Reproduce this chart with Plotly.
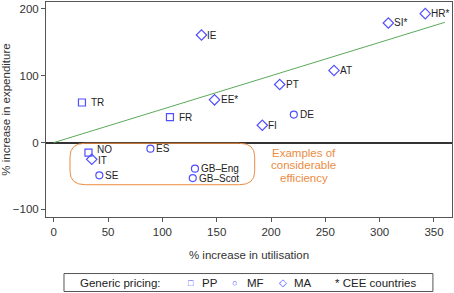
import plotly.graph_objects as go

# Data
pp_names = ["TR", "FR", "NO"]
pp_x = [26, 107, 32]
pp_y = [60, 38, -15]

mf_names = ["DE", "SE", "ES", "GB\u2013Eng", "GB\u2013Scot"]
mf_x = [221, 42, 89, 130, 128]
mf_y = [42, -49, -9, -39, -53]

ma_names = ["IE", "EE*", "PT", "AT", "SI*", "HR*", "FI", "IT"]
ma_x = [136, 148, 208, 258, 308, 342, 192, 35]
ma_y = [161, 64, 87, 108, 179, 193, 26, -25]

trend_x = [0, 360]
trend_slope = 0.5

x_ticks = [0, 50, 100, 150, 200, 250, 300, 350]
y_ticks = [-100, 0, 100, 200]

note_lines = ["Examples of", "considerable", "efficiency"]
note_x = 230
note_y = [-15.0, -33.6, -52.2]

# efficiency region bounds
reg_x0, reg_x1, reg_y0, reg_y1 = 15, 185, -63, -1
rx, ry = 14, 20

BLUE = "rgb(80,80,255)"
ORANGE = "rgb(236,140,66)"
FONT = "Liberation Sans, Arial, sans-serif"
TXT = "#222"

fig = go.Figure()

fig.add_trace(go.Scatter(
    x=trend_x, y=[trend_slope * v for v in trend_x], mode="lines",
    line=dict(color="rgb(90,170,90)", width=1), showlegend=False, hoverinfo="skip"))

for name, xs, ys, sym, sz in [("PP", pp_x, pp_y, "square-open", 7),
                              ("MF", mf_x, mf_y, "circle-open", 7),
                              ("MA", ma_x, ma_y, "diamond-open", 8)]:
    fig.add_trace(go.Scatter(
        x=xs, y=ys, mode="markers", name=name, cliponaxis=False,
        marker=dict(symbol=sym, size=sz, color=BLUE, line=dict(width=1.2))))

# point labels
label_shift = {"PP": 7, "MF": 4, "MA": 4}
label_yshift = {"NO": 3, "IT": -1}
for grp, names, xs, ys in [("PP", pp_names, pp_x, pp_y),
                           ("MF", mf_names, mf_x, mf_y),
                           ("MA", ma_names, ma_x, ma_y)]:
    for n, xx, yy in zip(names, xs, ys):
        fig.add_annotation(x=xx, y=yy, xref="x", yref="y", text=n, showarrow=False,
                           xanchor="left", yanchor="middle",
                           xshift=label_shift[grp], yshift=label_yshift.get(n, 0),
                           font=dict(size=10, color=TXT, family=FONT))

path = (f"M {reg_x0+rx},{reg_y1} L {reg_x1-rx},{reg_y1} Q {reg_x1},{reg_y1} {reg_x1},{reg_y1-ry} "
        f"L {reg_x1},{reg_y0+ry} Q {reg_x1},{reg_y0} {reg_x1-rx},{reg_y0} "
        f"L {reg_x0+rx},{reg_y0} Q {reg_x0},{reg_y0} {reg_x0},{reg_y0+ry} "
        f"L {reg_x0},{reg_y1-ry} Q {reg_x0},{reg_y1} {reg_x0+rx},{reg_y1} Z")
fig.add_shape(type="path", path=path, xref="x", yref="y",
              line=dict(color=ORANGE, width=1))

for t, yy in zip(note_lines, note_y):
    fig.add_annotation(x=note_x, y=yy, xref="x", yref="y", text=t, showarrow=False,
                       borderpad=0,
                       font=dict(size=11.5, color=ORANGE, family=FONT), align="center")

# manual legend box
leg_y = -0.305
fig.add_shape(type="rect", xref="paper", yref="paper", x0=0.0443, x1=0.953,
              y0=-0.3465, y1=-0.263, line=dict(color="#555", width=1))
legend_items = [
    ("Generic pricing:", 0.0788, TXT, 11.5),
    ("\u25a1", 0.345, BLUE, 9),
    ("PP", 0.379, TXT, 11.5),
    ("\u25cb", 0.453, BLUE, 9),
    ("MF", 0.490, TXT, 11.5),
    ("\u25c7", 0.569, BLUE, 10),
    ("MA", 0.606, TXT, 11.5),
    ("* CEE countries", 0.707, TXT, 11.5),
]
for t, xx, c, s in legend_items:
    fig.add_annotation(x=xx, y=leg_y, xref="paper", yref="paper", text=t, showarrow=False,
                       xanchor="left", yanchor="middle",
                       font=dict(size=s, color=c, family=FONT))

fig.update_layout(
    width=454, height=293,
    margin=dict(l=46, r=2, t=2, b=76),
    plot_bgcolor="white", paper_bgcolor="white",
    font=dict(family=FONT, size=11.5, color="#333"),
    showlegend=False,
    xaxis=dict(range=[-7.1, 366.6], tickvals=x_ticks, showgrid=False, zeroline=False,
               automargin=False,
               showline=True, linecolor="#555", linewidth=1, mirror=True,
               ticks="outside", ticklen=4, tickcolor="#555",
               tickfont=dict(size=11.5, color="#333"),
               title=dict(text="% increase in utilisation", font=dict(size=11.5, color="#333"), standoff=14)),
    yaxis=dict(range=[-111.3, 210.4], tickvals=y_ticks, showgrid=False,
               automargin=False,
               zeroline=True, zerolinecolor="#333", zerolinewidth=1.5,
               showline=True, linecolor="#555", linewidth=1, mirror=True,
               ticks="outside", ticklen=4, tickcolor="#555",
               tickfont=dict(size=11.5, color="#333"),
               title=dict(text="% increase in expenditure", font=dict(size=11.5, color="#333"), standoff=2)),
)

fig.write_html("out.html", config={"displayModeBar": False},
               post_script="document.body.style.margin='0';")
